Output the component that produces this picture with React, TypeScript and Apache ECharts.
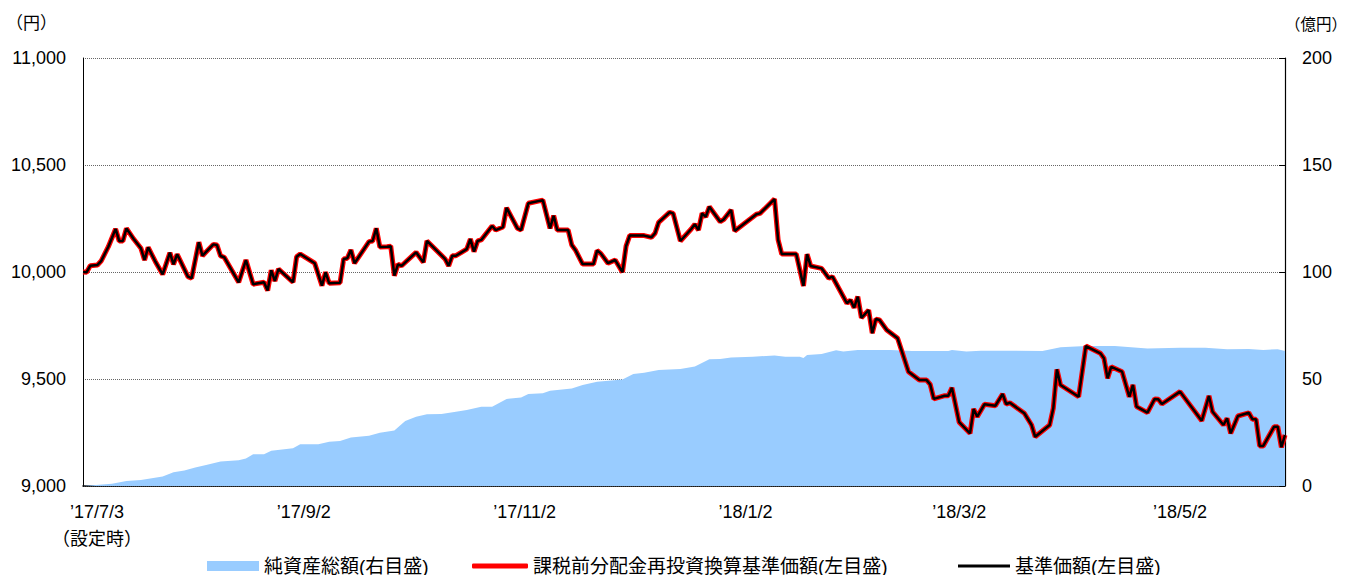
import { useEffect, useRef } from "react";
import * as echarts from "echarts";

// 基準価額 / 課税前分配金再投資換算基準価額 (円)
const priceDates = [
  "2017-07-03","2017-07-04","2017-07-05","2017-07-07","2017-07-08","2017-07-10","2017-07-12","2017-07-13","2017-07-14","2017-07-15",
  "2017-07-17","2017-07-19","2017-07-20","2017-07-21","2017-07-23","2017-07-25","2017-07-27","2017-07-28","2017-07-29","2017-08-01",
  "2017-08-02","2017-08-04","2017-08-05","2017-08-08","2017-08-09","2017-08-10","2017-08-11","2017-08-15","2017-08-17","2017-08-19",
  "2017-08-22","2017-08-23","2017-08-24","2017-08-25","2017-08-26","2017-08-30","2017-08-31","2017-09-01","2017-09-05","2017-09-07",
  "2017-09-08","2017-09-09","2017-09-12","2017-09-13","2017-09-14","2017-09-15","2017-09-16","2017-09-20","2017-09-21","2017-09-22",
  "2017-09-23","2017-09-25","2017-09-26","2017-09-27","2017-09-28","2017-09-29","2017-10-03","2017-10-05","2017-10-06","2017-10-11",
  "2017-10-12","2017-10-13","2017-10-14","2017-10-17","2017-10-18","2017-10-19","2017-10-20","2017-10-21","2017-10-24","2017-10-25",
  "2017-10-27","2017-10-28","2017-10-31","2017-11-01","2017-11-03","2017-11-07","2017-11-09","2017-11-10","2017-11-11","2017-11-14",
  "2017-11-15","2017-11-16","2017-11-18","2017-11-21","2017-11-22","2017-11-23","2017-11-25","2017-11-27","2017-11-29","2017-11-30",
  "2017-12-01","2017-12-05","2017-12-07","2017-12-08","2017-12-09","2017-12-12","2017-12-13","2017-12-15","2017-12-18","2017-12-19",
  "2017-12-20","2017-12-21","2017-12-22","2017-12-23","2017-12-26","2017-12-27","2017-12-29","2017-12-30","2018-01-05","2018-01-06",
  "2018-01-10","2018-01-11","2018-01-12","2018-01-16","2018-01-18","2018-01-19","2018-01-20","2018-01-23","2018-01-25","2018-01-26",
  "2018-01-30","2018-01-31","2018-02-01","2018-02-02","2018-02-03","2018-02-05","2018-02-06","2018-02-07","2018-02-08","2018-02-10",
  "2018-02-13","2018-02-16","2018-02-19","2018-02-21","2018-02-22","2018-02-23","2018-02-26","2018-02-27","2018-02-28","2018-03-02",
  "2018-03-05","2018-03-06","2018-03-07","2018-03-09","2018-03-12","2018-03-14","2018-03-15","2018-03-16","2018-03-20","2018-03-22",
  "2018-03-23","2018-03-27","2018-03-28","2018-03-29","2018-03-30","2018-04-04","2018-04-06","2018-04-10","2018-04-11","2018-04-12",
  "2018-04-13","2018-04-16","2018-04-18","2018-04-19","2018-04-20","2018-04-23","2018-04-25","2018-04-26","2018-04-27","2018-05-02",
  "2018-05-08","2018-05-10","2018-05-11","2018-05-14","2018-05-15","2018-05-16","2018-05-18","2018-05-21","2018-05-22","2018-05-23",
  "2018-05-24","2018-05-25","2018-05-28","2018-05-29","2018-05-30","2018-05-31",
];
const priceValues = [
  10000,9999,10029,10033,10051,10118,10201,10145,10145,10204,
  10154,10111,10056,10115,10048,9989,10090,10036,10083,9978,
  9971,10139,10076,10129,10126,10075,10069,9952,10056,9943,
  9952,9913,10008,9958,10014,9952,10071,10084,10041,9936,
  9999,9947,9950,10061,10064,10103,10041,10142,10145,10204,
  10117,10118,10121,9983,10036,10029,10092,10045,10145,10061,
  10029,10076,10076,10107,10154,10095,10145,10150,10215,10196,
  10210,10300,10204,10196,10321,10336,10204,10263,10196,10196,
  10126,10103,10037,10037,10100,10087,10041,10056,9999,10121,
  10170,10170,10162,10181,10232,10279,10274,10145,10201,10223,
  10196,10274,10258,10305,10235,10246,10290,10192,10270,10274,
  10341,10150,10084,10084,9935,10083,10028,10017,9971,9978,
  9854,9869,9833,9885,9786,9822,9714,9780,9776,9729,
  9690,9534,9495,9495,9475,9407,9422,9422,9459,9298,
  9246,9360,9324,9382,9375,9430,9383,9389,9340,9285,
  9230,9285,9363,9545,9472,9417,9654,9620,9597,9503,
  9557,9534,9417,9472,9371,9343,9407,9405,9383,9441,
  9305,9421,9347,9285,9316,9246,9327,9342,9312,9312,
  9187,9187,9277,9277,9181,9238,
];
// 分配実績なしのため課税前分配金再投資換算基準価額は基準価額と同値
const reinvestValues = priceValues.slice();

// 純資産総額 (億円)
const assetDates = [
  "2017-07-03","2017-07-11","2017-07-15","2017-07-19","2017-07-25","2017-07-28","2017-07-31","2017-08-03","2017-08-06","2017-08-10",
  "2017-08-15","2017-08-17","2017-08-19","2017-08-22","2017-08-24","2017-08-30","2017-09-01","2017-09-06","2017-09-09","2017-09-12",
  "2017-09-15","2017-09-20","2017-09-23","2017-09-27","2017-09-30","2017-10-03","2017-10-06","2017-10-10","2017-10-14","2017-10-17",
  "2017-10-21","2017-10-24","2017-10-28","2017-11-01","2017-11-03","2017-11-07","2017-11-09","2017-11-15","2017-11-18","2017-11-22",
  "2017-11-29","2017-12-02","2017-12-05","2017-12-09","2017-12-15","2017-12-19","2017-12-23","2017-12-26","2017-12-29","2018-01-04",
  "2018-01-10","2018-01-13","2018-01-17","2018-01-18","2018-01-19","2018-01-23","2018-01-27","2018-01-29","2018-02-02","2018-02-11",
  "2018-02-17","2018-02-27","2018-02-28","2018-03-04","2018-03-08","2018-03-17","2018-03-25","2018-03-30","2018-04-06","2018-04-14",
  "2018-04-23","2018-05-02","2018-05-09","2018-05-15","2018-05-21","2018-05-25","2018-05-29","2018-05-31",
];
const assetValues = [
  0,1,2.3,2.8,4.4,6.4,7.2,8.7,9.8,11.4,
  12,12.9,14.8,14.8,16.5,17.6,19.5,19.5,20.7,21,
  22.7,23.5,24.9,25.9,30.4,32.4,33.5,33.6,34.7,35.5,
  37,37,40.7,41.3,43,43.3,44.5,45.6,47.2,48.7,
  49.8,52.3,52.9,54.2,54.7,55.8,59.2,59.3,60,60.4,
  61,60.4,60.4,59.8,61.2,61.7,63.4,62.9,63.6,63.6,
  63.1,63.1,63.6,62.8,63.2,63.2,63.1,64.8,65.4,65.4,
  64.3,64.6,64.6,63.9,64,63.6,63.9,63.1,
];

const axisStart = "2017-07-03";
const axisEnd = "2018-05-31";
const tickDates = ["2017-07-03", "2017-09-02", "2017-11-02", "2018-01-02", "2018-03-02", "2018-05-02"];
const tickLabels = ["’17/7/3\n（設定時）", "’17/9/2", "’17/11/2", "’18/1/2", "’18/3/2", "’18/5/2"];

const SERIES_ASSET = "純資産総額(右目盛)";
const SERIES_REINVEST = "課税前分配金再投資換算基準価額(左目盛)";
const SERIES_PRICE = "基準価額(左目盛)";

const FONT = "'Liberation Sans', 'Noto Sans CJK JP', sans-serif";

function toTs(s: string): number {
  const [y, m, d] = s.split("-").map(Number);
  return new Date(y, m - 1, d).getTime();
}

export default function App() {
  const ref = useRef<HTMLDivElement>(null);

  useEffect(() => {
    document.body.style.margin = "0";
    if (!ref.current) return;
    const chart = echarts.init(ref.current, undefined, { renderer: "svg" });

    const tickTs = tickDates.map(toTs);
    const priceData = priceDates.map((d, i) => [toTs(d), priceValues[i]]);
    const reinvestData = priceDates.map((d, i) => [toTs(d), reinvestValues[i]]);
    const assetData = assetDates.map((d, i) => [toTs(d), assetValues[i]]);

    const textBase = { fontFamily: FONT, color: "#000" };
    const legendText = { ...textBase, fontSize: 19, lineHeight: 20 };

    chart.setOption({
      animation: false,
      textStyle: { fontFamily: FONT },
      grid: {
        left: 83,
        right: 64,
        top: 58,
        bottom: 89,
        containLabel: false,
        outerBoundsMode: "none",
      },
      legend: [
        {
          left: 207,
          top: 556,
          padding: 0,
          itemWidth: 52,
          itemHeight: 10,
          textStyle: legendText,
          data: [{ name: SERIES_ASSET, icon: "rect" }],
        },
        {
          left: 472,
          top: 556,
          padding: 0,
          itemWidth: 56,
          itemHeight: 5,
          textStyle: legendText,
          data: [{ name: SERIES_REINVEST, icon: "roundRect" }],
        },
        {
          left: 958,
          top: 556,
          padding: 0,
          itemWidth: 52,
          itemHeight: 3,
          textStyle: legendText,
          data: [{ name: SERIES_PRICE, icon: "rect" }],
        },
      ],
      xAxis: {
        type: "value",
        min: toTs(axisStart),
        max: toTs(axisEnd),
        axisLine: { show: true, lineStyle: { color: "#000", width: 1.5 } },
        axisTick: {
          show: true,
          inside: true,
          length: 6,
          customValues: tickTs,
          lineStyle: { color: "#000" },
        },
        axisLabel: {
          customValues: tickTs,
          ...textBase,
          fontSize: 18,
          lineHeight: 27,
          margin: 12,
          formatter: (value: number) => {
            const idx = tickTs.indexOf(value);
            if (idx < 0) return "";
            if (idx === 0) {
              return tickLabels[0]
                .split("\n")
                .map((s) => "{first|" + s + "}")
                .join("\n");
            }
            return tickLabels[idx];
          },
          rich: {
            first: {
              fontFamily: FONT,
              color: "#000",
              fontSize: 18,
              lineHeight: 27,
              padding: [0, 0, 0, 28],
            },
          },
        },
        splitLine: { show: false },
      },
      yAxis: [
        {
          type: "value",
          min: 9000,
          max: 11000,
          interval: 500,
          position: "left",
          name: "（円）",
          nameLocation: "end",
          nameGap: 26,
          nameTextStyle: { ...textBase, fontSize: 17, align: "right", padding: [0, 26, 0, 0] },
          axisLine: { show: true, lineStyle: { color: "#000", width: 1 } },
          axisTick: { show: false },
          axisLabel: {
            ...textBase,
            fontSize: 18,
            margin: 17,
            formatter: (v: number) => v.toLocaleString("en-US"),
          },
          splitLine: { show: true, lineStyle: { color: "#666", type: "dotted", width: 1 } },
        },
        {
          type: "value",
          min: 0,
          max: 200,
          interval: 50,
          position: "right",
          name: "（億円）",
          nameLocation: "end",
          nameGap: 26,
          nameTextStyle: { ...textBase, fontSize: 15.5, align: "left", padding: [0, 0, 0, 0] },
          axisLine: { show: true, lineStyle: { color: "#000", width: 1.2 } },
          axisTick: { show: true, inside: true, length: 6, lineStyle: { color: "#000" } },
          axisLabel: { ...textBase, fontSize: 18, margin: 17 },
          splitLine: { show: false },
        },
      ],
      series: [
        {
          name: SERIES_ASSET,
          type: "line",
          yAxisIndex: 1,
          data: assetData,
          symbol: "none",
          lineStyle: { width: 0, color: "#99CCFF" },
          itemStyle: { color: "#99CCFF" },
          areaStyle: { color: "#99CCFF", opacity: 1 },
          z: 1,
        },
        {
          name: SERIES_REINVEST,
          type: "line",
          yAxisIndex: 0,
          data: reinvestData,
          symbol: "none",
          lineStyle: { width: 5, color: "#FF0000" },
          itemStyle: { color: "#FF0000" },
          z: 2,
        },
        {
          name: SERIES_PRICE,
          type: "line",
          yAxisIndex: 0,
          data: priceData,
          symbol: "none",
          lineStyle: { width: 2.5, color: "#000000" },
          itemStyle: { color: "#000000" },
          z: 3,
        },
      ],
    });

    return () => chart.dispose();
  }, []);

  return <div ref={ref} style={{ width: 1349, height: 575 }} />;
}
